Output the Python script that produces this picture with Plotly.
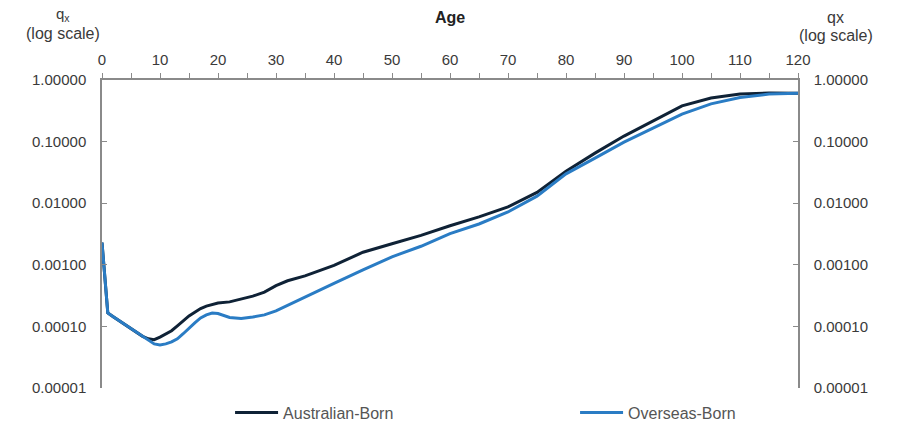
import plotly.graph_objects as go

ages = [0, 1, 2, 3, 4, 5, 6, 7, 8, 9, 10, 11, 12, 13, 14, 15, 16, 17, 18, 19, 20,
        22, 24, 26, 28, 30, 32, 35, 40, 45, 50, 55, 60, 65, 70, 75, 80, 85, 90,
        95, 100, 105, 110, 115, 120]

australian_born = [0.0023, 0.000165, 0.000142, 0.000123, 0.000105, 0.000091, 0.000078,
                   0.000069, 0.000063, 0.000061, 0.000067, 0.000075, 0.000085, 0.000102,
                   0.000123, 0.000148, 0.000170, 0.000195, 0.000214, 0.000226, 0.000240,
                   0.000250, 0.000280, 0.000310, 0.000360, 0.000460, 0.000550, 0.000660,
                   0.00098, 0.0016, 0.0022, 0.0030, 0.0043, 0.0060, 0.0087, 0.015,
                   0.033, 0.065, 0.123, 0.216, 0.38, 0.51, 0.59, 0.615, 0.61]

overseas_born = [0.0023, 0.000165, 0.000142, 0.000123, 0.000105, 0.000091, 0.000078,
                 0.000069, 0.000060, 0.000052, 0.000050, 0.000052, 0.000056, 0.000063,
                 0.000076, 0.000094, 0.000114, 0.000137, 0.000154, 0.000165, 0.000162,
                 0.000140, 0.000135, 0.000142, 0.000154, 0.000178, 0.000220, 0.000300,
                 0.00050, 0.00083, 0.00135, 0.0020, 0.0032, 0.0046, 0.0072, 0.013,
                 0.030, 0.054, 0.098, 0.166, 0.28, 0.41, 0.52, 0.59, 0.61]

x_tickvals = list(range(0, 121, 10))
x_ticktext = [str(v) for v in x_tickvals]
y_tickvals = [1, 0.1, 0.01, 0.001, 0.0001, 0.00001]
y_ticktext = ["1.00000", "0.10000", "0.01000", "0.00100", "0.00010", "0.00001"]

dark = "#0f2236"
blue = "#2a7cc4"
axis_col = "#8a8a8a"
txt_col = "#3a3a3a"
font_family = "Liberation Sans, Arial, sans-serif"

fig = go.Figure()
fig.add_trace(go.Scatter(x=ages, y=australian_born, mode="lines", name="Australian-Born",
                         line=dict(color=dark, width=3)))
fig.add_trace(go.Scatter(x=ages, y=overseas_born, mode="lines", name="Overseas-Born",
                         line=dict(color=blue, width=3)))
fig.add_trace(go.Scatter(x=ages, y=overseas_born, mode="lines", yaxis="y2",
                         showlegend=False, hoverinfo="skip", opacity=0,
                         line=dict(color=blue, width=0.1)))

yaxis_common = dict(type="log", range=[-5, 0], tickvals=y_tickvals, ticktext=y_ticktext,
                    showgrid=False, zeroline=False, showline=True, linecolor=axis_col,
                    linewidth=1.5, ticks="inside", ticklen=5, tickcolor=axis_col,
                    tickfont=dict(size=15, color=txt_col, family=font_family),
                    ticklabelstandoff=11, automargin=False)

title_font = dict(size=16, color=txt_col, family=font_family)

# the page body adds an 8px offset, so the figure is 8px smaller on each axis
fig.update_layout(
    width=889, height=418,
    margin=dict(l=94, r=99, t=72, b=38, autoexpand=False),
    paper_bgcolor="white", plot_bgcolor="white",
    font=dict(family=font_family, color=txt_col),
    xaxis=dict(side="top", range=[0, 120], tickvals=x_tickvals, ticktext=x_ticktext,
               showgrid=False, zeroline=False, showline=True, linecolor=axis_col,
               linewidth=1.5, ticks="outside", ticklen=5, tickcolor=axis_col,
               minor=dict(dtick=5, ticks="outside", ticklen=5, tickcolor=axis_col, showgrid=False),
               tickfont=dict(size=15, color=txt_col, family=font_family),
               ticklabelstandoff=2, automargin=False),
    yaxis=dict(side="left", **yaxis_common),
    yaxis2=dict(side="right", overlaying="y", **yaxis_common),
    showlegend=True,
    legend=dict(orientation="h", x=0.184, xanchor="left", y=-0.025, yanchor="top",
                entrywidth=287, entrywidthmode="pixels", itemwidth=43,
                font=dict(size=16, color="#555555", family=font_family),
                bgcolor="rgba(0,0,0,0)"),
    annotations=[
        dict(text="<b>Age</b>", x=0.5, xref="paper", y=1.0, yref="paper", showarrow=False,
             xanchor="center", yanchor="middle", yshift=63,
             font=dict(size=16, color="#222222", family=font_family)),
        dict(text="q<sub>x</sub>", xref="paper", yref="paper", x=-0.056, y=1.0,
             xanchor="center", yanchor="middle", yshift=66, showarrow=False,
             font=dict(size=15, color=txt_col, family=font_family)),
        dict(text="(log scale)", xref="paper", yref="paper", x=-0.056, y=1.0,
             xanchor="center", yanchor="middle", yshift=47, showarrow=False, font=title_font),
        dict(text="qx", xref="paper", yref="paper", x=1.054, y=1.0,
             xanchor="center", yanchor="middle", yshift=63, showarrow=False, font=title_font),
        dict(text="(log scale)", xref="paper", yref="paper", x=1.054, y=1.0,
             xanchor="center", yanchor="middle", yshift=45, showarrow=False, font=title_font),
    ],
)

fig.write_html("out.html")
